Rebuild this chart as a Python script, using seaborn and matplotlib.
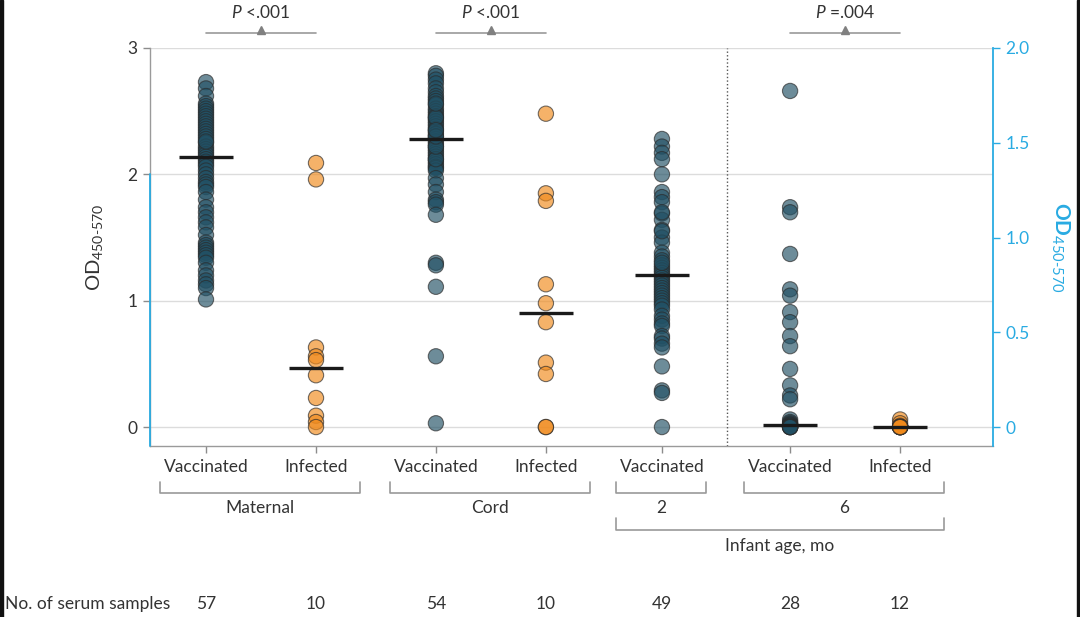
import numpy as np
import pandas as pd
import matplotlib.pyplot as plt
import matplotlib.transforms as mtransforms
from matplotlib.patches import Rectangle
import seaborn as sns

# data
STATUS    = ["Vaccinated", "Infected", "Vaccinated", "Infected", "Vaccinated", "Vaccinated", "Infected"]
N_SAMPLES = [57, 10, 54, 10, 49, 28, 12]

maternal_vacc = [2.73, 2.68, 2.62, 2.56, 2.54, 2.52, 2.50, 2.48, 2.46, 2.44,
                 2.42, 2.40, 2.38, 2.36, 2.34, 2.32, 2.30, 2.28, 2.25, 2.22,
                 2.20, 2.18, 2.16, 2.14, 2.12, 2.10, 2.08, 2.06, 2.03, 2.00,
                 1.97, 1.94, 1.92, 1.90, 1.86, 1.80, 1.74, 1.70, 1.66, 1.62,
                 1.58, 1.52, 1.46, 1.44, 1.42, 1.40, 1.38, 1.36, 1.34, 1.30,
                 1.24, 1.20, 1.16, 1.13, 1.10, 1.01, 2.26]
maternal_inf  = [2.09, 1.96, 0.63, 0.56, 0.53, 0.41, 0.23, 0.09, 0.04, 0.00]
cord_vacc     = [2.80, 2.78, 2.75, 2.72, 2.68, 2.65, 2.62, 2.60, 2.58, 2.55,
                 2.52, 2.50, 2.48, 2.46, 2.44, 2.42, 2.40, 2.38, 2.36, 2.34,
                 2.32, 2.30, 2.28, 2.26, 2.24, 2.22, 2.20, 2.18, 2.16, 2.14,
                 2.12, 2.10, 2.08, 2.06, 2.05, 2.03, 2.12, 2.22, 2.30, 2.45,
                 1.97, 1.92, 1.86, 1.80, 1.78, 1.76, 1.68, 1.30, 1.28, 1.11,
                 0.56, 0.03, 2.56, 2.35]
cord_inf      = [2.48, 1.85, 1.79, 1.13, 0.98, 0.83, 0.51, 0.42, 0.00, 0.00]
infant2_vacc  = [2.28, 2.22, 2.17, 2.12, 2.00, 1.86, 1.82, 1.78, 1.69, 1.64,
                 1.56, 1.50, 1.46, 1.38, 1.35, 1.32, 1.28, 1.26, 1.24, 1.22,
                 1.20, 1.18, 1.16, 1.14, 1.12, 1.10, 1.08, 1.06, 1.04, 1.02,
                 1.00, 0.98, 0.96, 0.93, 0.88, 0.85, 0.82, 0.80, 0.72, 0.70,
                 0.66, 0.63, 0.48, 0.29, 0.27, 0.00, 1.30, 1.70, 1.55]
infant6_vacc  = [2.66, 1.74, 1.70, 1.37, 1.09, 1.04, 0.91, 0.83, 0.72, 0.64,
                 0.46, 0.33, 0.25, 0.22, 0.06, 0.04, 0.03, 0.02, 0.02, 0.01,
                 0.01, 0.01, 0.00, 0.00, 0.00, 0.00, 0.00, 0.00]
infant6_inf   = [0.06, 0.03, 0.01, 0.00, 0.00, 0.00, 0.00, 0.00, 0.00, 0.00, 0.00, 0.00]

SERIES  = [maternal_vacc, maternal_inf, cord_vacc, cord_inf, infant2_vacc, infant6_vacc, infant6_inf]
MEDIANS = [2.14, 0.465, 2.28, 0.90, 1.20, 0.02, 0.00]

P_LABELS = ["<.001", "<.001", "=.004"]
P_PAIRS  = [(0, 1), (2, 3), (5, 6)]

GROUP_LABELS = ["Maternal", "Cord", "2", "6"]
GROUP_SPANS  = [(0, 1), (2, 3), (4, 4), (5, 6)]

# layout
X_POS   = [0, 1, 2.09, 3.09, 4.145, 5.31, 6.31]
AX_L, AX_R, AX_T, AX_B = 150, 993, 48, 446   # axes box in pixels
X_LIM   = ((AX_L - 206) / 110, (AX_R - 206) / 110)
Y_LIM   = (-0.15, 3.0)
DIVIDER = 4.736
HALF_W  = 0.245
FIG_W_PX, FIG_H_PX = 1080, 617

TEAL   = "#215064"
ORANGE = "#f08a1c"
BLUE   = "#29abe2"
GRAY   = "#8c8c8c"
TEXT   = "#333333"

sns.set_theme(style="white")
plt.rcParams["font.family"] = ["Lato", "DejaVu Sans"]
plt.rcParams["mathtext.fontset"] = "custom"
plt.rcParams["mathtext.rm"] = "Lato"
plt.rcParams["mathtext.it"] = "Lato:italic"
plt.rcParams["mathtext.bf"] = "Lato:bold"


def fy(px):
    return 1 - px / FIG_H_PX


rows = []
for pos, status, vals in zip(X_POS, STATUS, SERIES):
    for v in vals:
        rows.append({"x": pos, "od": v, "status": status})
df = pd.DataFrame(rows)

fig = plt.figure(figsize=(10.8, 6.17), dpi=100)
ax = fig.add_axes([AX_L / FIG_W_PX, fy(AX_B), (AX_R - AX_L) / FIG_W_PX, (AX_B - AX_T) / FIG_H_PX])

ax.grid(axis="y", color="#dcdcdc", lw=1)
ax.set_axisbelow(True)

sns.stripplot(data=df, x="x", y="od", hue="status", native_scale=True, orient="x",
              jitter=False, palette={"Vaccinated": TEAL, "Infected": ORANGE},
              size=11, alpha=0.66, edgecolor="#2a2a2a", linewidth=0.8,
              legend=False, ax=ax, zorder=3)

ax.hlines(MEDIANS, np.array(X_POS) - HALF_W, np.array(X_POS) + HALF_W,
          color="#1a1a1a", lw=2.4, zorder=6)
ax.axvline(DIVIDER, color="#555555", ls=(0, (1, 1.6)), lw=1, zorder=1)

ax.set_xlim(*X_LIM)
ax.set_ylim(*Y_LIM)
ax.set_xticks(X_POS)
ax.set_xticklabels(STATUS)
ax.set_yticks([0, 1, 2, 3])
ax.set_yticklabels(["0", "1", "2", "3"])
ax.tick_params(axis="both", colors=GRAY, labelcolor=TEXT, labelsize=12.5,
               length=5, width=1, pad=4)
ax.tick_params(axis="x", bottom=True)
ax.tick_params(axis="y", left=True)
ax.set_xlabel("")
ax.set_ylabel(r"OD$_{450\text{-}570}$", fontsize=14.5, color=TEXT, labelpad=16)

for side in ["top", "right"]:
    ax.spines[side].set_visible(False)
for side in ["left", "bottom"]:
    ax.spines[side].set_color("#9a9a9a")
    ax.spines[side].set_linewidth(1)
# blue segment on the lower part of the left spine
ax.axvline(X_LIM[0], ymin=0, ymax=(2 - Y_LIM[0]) / (Y_LIM[1] - Y_LIM[0]),
           color=BLUE, lw=1.3, clip_on=False, zorder=7)

# right axis
ax2 = ax.twinx()
ax2.set_ylim(Y_LIM[0] * 2 / 3, Y_LIM[1] * 2 / 3)
ax2.set_yticks([0, 0.5, 1.0, 1.5, 2.0])
ax2.set_yticklabels(["0", "0.5", "1.0", "1.5", "2.0"])
ax2.tick_params(axis="y", colors=BLUE, labelsize=12.5, length=5, width=1, pad=4, right=True)
for side in ["top", "left", "bottom"]:
    ax2.spines[side].set_visible(False)
ax2.spines["right"].set_color(BLUE)
ax2.spines["right"].set_linewidth(1.3)
ax2.set_ylabel(r"$\mathbf{OD}_{450\text{-}570}$", fontsize=15, color=BLUE,
               rotation=270, labelpad=30)

trans = mtransforms.blended_transform_factory(ax.transData, fig.transFigure)

# p-value brackets
for (a, b), lab in zip(P_PAIRS, P_LABELS):
    xa, xb = X_POS[a], X_POS[b]
    xm = (xa + xb) / 2
    ax.plot([xa, xb], [fy(33), fy(33)], color="#9a9a9a", lw=1.2,
            transform=trans, clip_on=False)
    ax.plot([xm], [fy(30)], marker="^", ms=6, color="#808080",
            transform=trans, clip_on=False)
    ax.text(xm, fy(13), r"$\it{P}$ " + lab, ha="center", va="center",
            fontsize=12.5, color=TEXT, transform=trans)


# group brackets under tick labels
def bracket(x0, x1, y_line, y_end, label, y_label):
    ax.plot([x0, x0, x1, x1], [fy(y_end), fy(y_line), fy(y_line), fy(y_end)],
            color="#9a9a9a", lw=1.2, transform=trans, clip_on=False)
    ax.text((x0 + x1) / 2, fy(y_label), label, ha="center", va="center",
            fontsize=12.5, color=TEXT, transform=trans)


for (a, b), lab in zip(GROUP_SPANS, GROUP_LABELS):
    bracket(X_POS[a] - 0.42, X_POS[b] + 0.40, 493, 482, lab, 508)
bracket(X_POS[4] - 0.42, X_POS[6] + 0.40, 530, 518, "Infant age, mo", 546)

# sample counts row
fig.text(5 / FIG_W_PX, fy(604), "No. of serum samples", ha="left", va="center",
         fontsize=12.5, color=TEXT)
for pos, n in zip(X_POS, N_SAMPLES):
    ax.text(pos, fy(604), str(n), ha="center", va="center",
            fontsize=12.5, color=TEXT, transform=trans)

# thin dark screen edges
fig.patches.append(Rectangle((0, 0), 3 / FIG_W_PX, 1, transform=fig.transFigure,
                             color="#111111", zorder=10))
fig.patches.append(Rectangle((1 - 3 / FIG_W_PX, 0), 3 / FIG_W_PX, 1, transform=fig.transFigure,
                             color="#111111", zorder=10))

fig.savefig("out.png", dpi=100)
